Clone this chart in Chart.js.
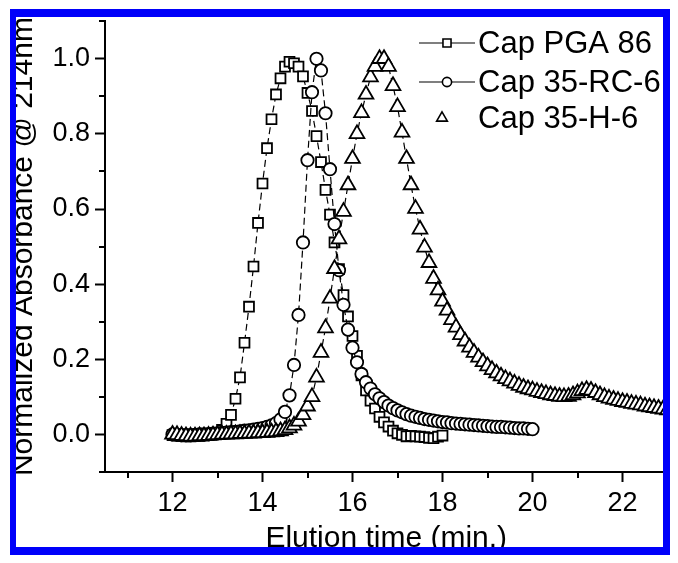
<!DOCTYPE html>
<html>
<head>
<meta charset="utf-8">
<script src="https://cdn.jsdelivr.net/npm/chart.js@4.4.0/dist/chart.umd.min.js"></script>
<style>
  html, body { margin: 0; padding: 0; background: #fff; }
  #chart { display: block; }
</style>
</head>
<body>
<canvas id="chart" width="678" height="563"></canvas>
<script>
// elution time (min), sampled every 0.1 min
const elutionTime = [
  12.0, 12.1, 12.2, 12.3, 12.4, 12.5, 12.6, 12.7, 12.8, 12.9,
  13.0, 13.1, 13.2, 13.3, 13.4, 13.5, 13.6, 13.7, 13.8, 13.9,
  14.0, 14.1, 14.2, 14.3, 14.4, 14.5, 14.6, 14.7, 14.8, 14.9,
  15.0, 15.1, 15.2, 15.3, 15.4, 15.5, 15.6, 15.7, 15.8, 15.9,
  16.0, 16.1, 16.2, 16.3, 16.4, 16.5, 16.6, 16.7, 16.8, 16.9,
  17.0, 17.1, 17.2, 17.3, 17.4, 17.5, 17.6, 17.7, 17.8, 17.9,
  18.0, 18.1, 18.2, 18.3, 18.4, 18.5, 18.6, 18.7, 18.8, 18.9,
  19.0, 19.1, 19.2, 19.3, 19.4, 19.5, 19.6, 19.7, 19.8, 19.9,
  20.0, 20.1, 20.2, 20.3, 20.4, 20.5, 20.6, 20.7, 20.8, 20.9,
  21.0, 21.1, 21.2, 21.3, 21.4, 21.5, 21.6, 21.7, 21.8, 21.9,
  22.0, 22.1, 22.2, 22.3, 22.4, 22.5, 22.6, 22.7, 22.8, 22.9,
  23.0
];

const seriesLabels = ['Cap PGA 86', 'Cap 35-RC-6', 'Cap 35-H-6'];

// Cap PGA 86, 12.0 - 18.0 min
const pgaAbs = [
  -0.002, -0.003, -0.004, -0.005, -0.005, -0.004, -0.004, -0.003, -0.002, 0.000,
  0.004, 0.012, 0.028, 0.052, 0.095, 0.152, 0.244, 0.340, 0.447, 0.563,
  0.668, 0.762, 0.839, 0.905, 0.948, 0.979, 0.992, 0.988, 0.979, 0.953,
  0.909, 0.861, 0.794, 0.725, 0.651, 0.585, 0.511, 0.440, 0.371, 0.314,
  0.262, 0.209, 0.157, 0.117, 0.090, 0.069, 0.047, 0.032, 0.021, 0.010,
  0.003, -0.001, -0.005, -0.004, -0.005, -0.006, -0.007, -0.009, -0.010, -0.006,
  -0.003
];

// Cap 35-RC-6, 12.0 - 20.0 min
const rcAbs = [
  0.000, -0.001, -0.002, -0.002, -0.002, -0.001, 0.000, 0.000, 0.001, 0.002,
  0.003, 0.004, 0.005, 0.006, 0.007, 0.008, 0.010, 0.011, 0.013, 0.015,
  0.017, 0.020, 0.024, 0.030, 0.040, 0.060, 0.104, 0.185, 0.318, 0.511,
  0.730, 0.911, 1.000, 0.969, 0.855, 0.706, 0.560, 0.437, 0.345, 0.279,
  0.231, 0.192, 0.161, 0.139, 0.122, 0.107, 0.096, 0.086, 0.077, 0.070,
  0.064, 0.059, 0.054, 0.050, 0.047, 0.044, 0.041, 0.039, 0.037, 0.035,
  0.033, 0.032, 0.030, 0.029, 0.028, 0.027, 0.026, 0.025, 0.024, 0.023,
  0.022, 0.021, 0.020, 0.020, 0.019, 0.018, 0.017, 0.016, 0.016, 0.015,
  0.014
];

// Cap 35-H-6, 12.0 - 23.0 min
const hAbs = [
  0.000, -0.001, -0.003, -0.004, -0.005, -0.005, -0.004, -0.004, -0.003, -0.002,
  -0.001, 0.000, 0.000, 0.001, 0.001, 0.002, 0.002, 0.003, 0.003, 0.004,
  0.004, 0.005, 0.006, 0.007, 0.009, 0.012, 0.017, 0.024, 0.035, 0.052,
  0.075, 0.100, 0.152, 0.218, 0.283, 0.362, 0.441, 0.520, 0.593, 0.664,
  0.734, 0.800, 0.856, 0.905, 0.951, 0.979, 1.000, 1.000, 0.979, 0.928,
  0.872, 0.804, 0.734, 0.664, 0.601, 0.546, 0.498, 0.457, 0.415, 0.384,
  0.354, 0.330, 0.305, 0.285, 0.265, 0.248, 0.232, 0.218, 0.205, 0.193,
  0.182, 0.172, 0.163, 0.155, 0.148, 0.142, 0.136, 0.130, 0.125, 0.121,
  0.118, 0.114, 0.111, 0.108, 0.105, 0.103, 0.101, 0.100, 0.101, 0.105,
  0.110, 0.116, 0.119, 0.117, 0.111, 0.105, 0.100, 0.096, 0.093, 0.090,
  0.087, 0.085, 0.082, 0.080, 0.078, 0.075, 0.073, 0.071, 0.069, 0.067,
  0.065
];

const xTickValues = [12, 14, 16, 18, 20, 22];
const xMinorTicks = [11, 13, 15, 17, 19, 21, 23];
const yTickValues = [0, 0.2, 0.4, 0.6, 0.8, 1.0];
const yMinorTicks = [-0.1, 0.1, 0.3, 0.5, 0.7, 0.9, 1.1];

const FONT = "'Liberation Sans', Arial, sans-serif";

function toPoints(values) {
  return values.map((v, i) => ({ x: elutionTime[i], y: v }));
}

function series(label, values, style, radius, order) {
  return {
    label: label,
    data: toPoints(values),
    showLine: true,
    borderColor: '#000',
    borderWidth: 1.2,
    borderDash: [7, 4],
    pointStyle: style,
    pointRadius: radius,
    pointBorderWidth: 1.8,
    pointBorderColor: '#000',
    pointBackgroundColor: '#fff',
    order: order
  };
}

// legend rows: marker radius and whether a line is drawn through the marker
const legendRows = [
  { y: 43, radius: 5.7, line: true },
  { y: 82, radius: 4.6, line: true },
  { y: 118, radius: 6.2, line: false }
];

const decor = {
  id: 'decor',
  afterDraw(chart) {
    const ctx = chart.ctx;
    const area = chart.chartArea;
    const xs = chart.scales.x;
    const ys = chart.scales.y;

    // minor ticks
    ctx.save();
    ctx.strokeStyle = '#000';
    ctx.lineWidth = 2;
    ctx.beginPath();
    xMinorTicks.forEach(v => {
      const px = Math.round(xs.getPixelForValue(v));
      if (px < area.left - 1 || px > area.right + 1) return;
      ctx.moveTo(px, area.bottom);
      ctx.lineTo(px, area.bottom + 6);
    });
    yMinorTicks.forEach(v => {
      const py = Math.round(ys.getPixelForValue(v));
      if (py < area.top - 1 || py > area.bottom + 1) return;
      ctx.moveTo(area.left, py);
      ctx.lineTo(area.left - 6, py);
    });
    ctx.stroke();
    ctx.restore();

    // legend
    ctx.save();
    ctx.font = '31px ' + FONT;
    ctx.textBaseline = 'middle';
    ctx.textAlign = 'left';
    chart.data.datasets.forEach((ds, i) => {
      const row = legendRows[i];
      const cx = row.line ? 447 : 442;
      if (row.line) {
        ctx.strokeStyle = '#000';
        ctx.lineWidth = 1.2;
        ctx.setLineDash([]);
        ctx.beginPath();
        ctx.moveTo(419, row.y);
        ctx.lineTo(475, row.y);
        ctx.stroke();
      }
      ctx.fillStyle = '#fff';
      ctx.strokeStyle = '#000';
      ctx.lineWidth = 1.6;
      Chart.helpers.drawPoint(ctx, {
        pointStyle: ds.pointStyle, radius: row.radius, rotation: 0, borderWidth: 1.6
      }, cx, row.y);
      ctx.fillStyle = '#000';
      ctx.fillText(ds.label, 478, row.y + 1);
    });
    ctx.restore();

    // blue frame, anything outside it is white
    const W = chart.width, H = chart.height;
    ctx.save();
    ctx.fillStyle = '#fff';
    ctx.beginPath();
    ctx.rect(0, 0, W, H);
    ctx.rect(10, 9, 660, 546);
    ctx.fill('evenodd');
    ctx.fillStyle = '#0000fa';
    ctx.beginPath();
    ctx.rect(10, 9, 660, 546);
    ctx.rect(16, 17, 647, 530);
    ctx.fill('evenodd');
    ctx.restore();
  }
};

new Chart(document.getElementById('chart'), {
  type: 'scatter',
  data: {
    datasets: [
      series(seriesLabels[0], pgaAbs, 'rect', 7, 3),
      series(seriesLabels[1], rcAbs, 'circle', 6.2, 2),
      series(seriesLabels[2], hAbs, 'triangle', 8.5, 1)
    ]
  },
  options: {
    responsive: false,
    animation: false,
    devicePixelRatio: 1,
    layout: { padding: { left: 0, top: 14, right: 10.5, bottom: 0 } },
    plugins: {
      legend: { display: false },
      tooltip: { enabled: false }
    },
    scales: {
      x: {
        type: 'linear',
        min: 10.5,
        max: 23,
        afterFit: s => { s.height = 91; },
        afterBuildTicks: s => { s.ticks = xTickValues.map(v => ({ value: v })); },
        ticks: {
          font: { family: FONT, size: 27 },
          color: '#000',
          padding: 5,
          maxRotation: 0,
          autoSkip: false,
          callback: v => String(v)
        },
        grid: { drawOnChartArea: false, tickLength: 10, tickWidth: 2, tickColor: '#000' },
        border: { color: '#000', width: 2 },
        title: {
          display: true,
          text: 'Elution time (min.)',
          font: { family: FONT, size: 30 },
          color: '#000',
          padding: { top: 0, bottom: 6 }
        }
      },
      y: {
        type: 'linear',
        min: -0.1,
        max: 1.1,
        afterFit: s => { s.width = 105; },
        afterBuildTicks: s => { s.ticks = yTickValues.map(v => ({ value: v })); },
        ticks: {
          font: { family: FONT, size: 27 },
          color: '#000',
          padding: 5,
          autoSkip: false,
          callback: v => v.toFixed(1)
        },
        grid: { drawOnChartArea: false, tickLength: 10, tickWidth: 2, tickColor: '#000' },
        border: { color: '#000', width: 2 },
        title: {
          display: true,
          text: 'Normalized Absorbance @ 214nm',
          font: { family: FONT, size: 30 },
          color: '#000',
          padding: { top: 6, bottom: 0 }
        }
      }
    }
  },
  plugins: [decor]
});
</script>
</body>
</html>
